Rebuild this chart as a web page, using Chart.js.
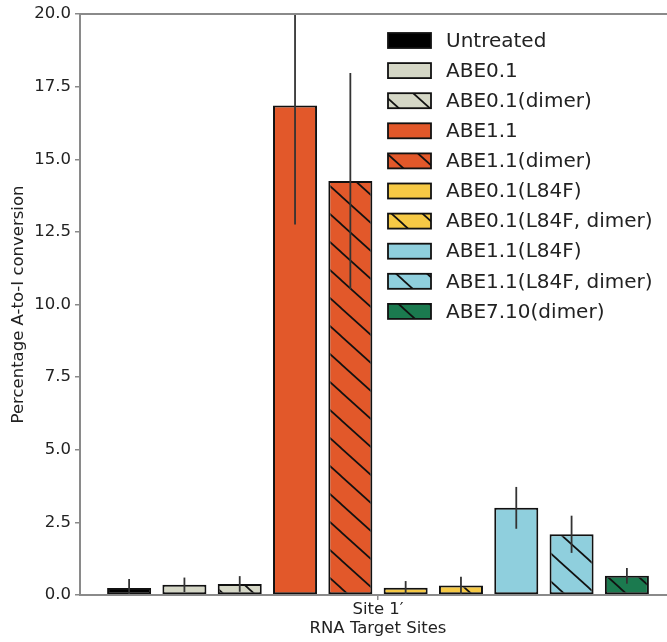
<!DOCTYPE html>
<html>
<head>
<meta charset="utf-8">
<script src="https://cdn.jsdelivr.net/npm/chart.js@4.4.1/dist/chart.umd.min.js"></script>
<style>
    html, body { margin: 0; padding: 0; background: #fff; overflow: hidden; }
    #chart { display: block; }
</style>
</head>
<body>
<canvas id="chart" width="700" height="642"></canvas>
<script>
// ############################## DADOS ###########################################
var sites = ['Site 1\u2032'];
var series = ['Untreated', 'ABE0.1', 'ABE0.1(dimer)', 'ABE1.1', 'ABE1.1(dimer)',
    'ABE0.1(L84F)', 'ABE0.1(L84F, dimer)', 'ABE1.1(L84F)', 'ABE1.1(L84F, dimer)', 'ABE7.10(dimer)'];
var values = [0.24, 0.35, 0.38, 16.85, 14.25, 0.25, 0.33, 3.0, 2.09, 0.66];
var errors = [0.31, 0.25, 0.27, 4.1, 3.72, 0.23, 0.30, 0.72, 0.64, 0.27];
var colors = ['#000000', '#d5d7c6', '#d5d7c6', '#e2582a', '#e2582a',
    '#f6c945', '#f6c945', '#8fcfdd', '#8fcfdd', '#1b7a4f'];
var hatched = [false, false, true, false, true, false, true, false, true, true];
var yTicks = [0, 2.5, 5, 7.5, 10, 12.5, 15, 17.5, 20];

var FONT = 'DejaVu Sans';
var SPINE = '#8a8a8a';

/**
 * Cria um padrão com linhas diagonais "\" sobre a cor de fundo
 *
 * @param {string} color
 */
function makeHatch(color) {
    var w = 31, h = 28;
    var tile = document.createElement('canvas');
    tile.width = w;
    tile.height = h;
    var c = tile.getContext('2d');
    c.fillStyle = color;
    c.fillRect(0, 0, w, h);
    c.strokeStyle = '#111';
    c.lineWidth = 1.7;
    for (var k = -1; k <= 1; k++) {
        c.beginPath();
        c.moveTo(-1, -h / w + k * h);
        c.lineTo(w + 1, (w + 1) * h / w + k * h);
        c.stroke();
    }
    return c.createPattern(tile, 'repeat');
}

var fills = colors.map(function (col, i) {
    return hatched[i] ? makeHatch(col) : col;
});

var datasets = series.map(function (name, i) {
    return {
        label: name,
        data: [values[i]],
        backgroundColor: fills[i],
        borderColor: '#111',
        borderWidth: 2,
        borderSkipped: false
    };
});

// Barras de erro (sem "cap"), desenhadas pela escala Y
var errorBars = {
    id: 'errorBars',
    afterDatasetsDraw: function (chart) {
        var ctx = chart.ctx, y = chart.scales.y, area = chart.chartArea;
        ctx.save();
        ctx.beginPath();
        ctx.rect(area.left, area.top, area.right - area.left, area.bottom - area.top);
        ctx.clip();
        ctx.strokeStyle = '#333';
        ctx.lineWidth = 1.8;
        chart.data.datasets.forEach(function (ds, i) {
            var bar = chart.getDatasetMeta(i).data[0];
            ctx.beginPath();
            ctx.moveTo(bar.x, y.getPixelForValue(values[i] - errors[i]));
            ctx.lineTo(bar.x, y.getPixelForValue(values[i] + errors[i]));
            ctx.stroke();
        });
        ctx.restore();
    }
};

// Moldura (spines) em volta da área do gráfico
var frame = {
    id: 'frame',
    afterDraw: function (chart) {
        var ctx = chart.ctx, a = chart.chartArea;
        ctx.save();
        ctx.strokeStyle = SPINE;
        ctx.lineWidth = 2;
        ctx.strokeRect(a.left, a.top, a.right - a.left, a.bottom - a.top);
        ctx.restore();
    }
};

// Legenda no canto superior direito
var legendBox = {
    id: 'legendBox',
    afterDraw: function (chart) {
        var ctx = chart.ctx;
        var x = 388, y = 33, bw = 43, bh = 15, step = 30.1;
        ctx.save();
        ctx.font = '20px "' + FONT + '"';
        ctx.textBaseline = 'middle';
        chart.data.datasets.forEach(function (ds, i) {
            var top = y + i * step;
            ctx.fillStyle = ds.backgroundColor;
            ctx.fillRect(x, top, bw, bh);
            ctx.strokeStyle = '#111';
            ctx.lineWidth = 1.8;
            ctx.strokeRect(x, top, bw, bh);
            ctx.fillStyle = '#222';
            ctx.fillText(ds.label, x + 58, top + bh / 2 + 1);
        });
        ctx.restore();
    }
};

var chart = new Chart(document.getElementById('chart'), {
    type: 'bar',
    data: {
        labels: sites,
        datasets: datasets
    },
    options: {
        responsive: false,
        animation: false,
        devicePixelRatio: 1,
        categoryPercentage: 0.928,
        barPercentage: 0.796,
        layout: {
            padding: { top: 14, right: 24, left: 0, bottom: 0 }
        },
        plugins: {
            legend: { display: false },
            tooltip: { enabled: false }
        },
        scales: {
            x: {
                afterFit: function (s) { s.height = 47; },
                grid: {
                    offset: false,
                    drawOnChartArea: false,
                    tickLength: 5,
                    color: SPINE,
                    lineWidth: 1.5
                },
                border: { display: true, color: SPINE, width: 2 },
                ticks: {
                    padding: 1,
                    color: '#222',
                    font: { family: FONT, size: 16.5, lineHeight: 1 }
                },
                title: {
                    display: true,
                    text: 'RNA Target Sites',
                    color: '#222',
                    padding: { top: 0, bottom: 3 },
                    font: { family: FONT, size: 16.5, lineHeight: 1.2 }
                }
            },
            y: {
                min: 0,
                max: 20,
                afterFit: function (s) { s.width = 80; },
                afterBuildTicks: function (s) {
                    s.ticks = yTicks.map(function (v) { return { value: v }; });
                },
                grid: {
                    drawOnChartArea: false,
                    tickLength: 5,
                    color: SPINE,
                    lineWidth: 1.5
                },
                border: { display: true, color: SPINE, width: 2 },
                ticks: {
                    padding: 4,
                    color: '#222',
                    font: { family: FONT, size: 16.5 },
                    callback: function (v) { return Number(v).toFixed(1); }
                },
                title: {
                    display: true,
                    text: 'Percentage A-to-I conversion',
                    color: '#222',
                    padding: { top: 9, bottom: 0 },
                    font: { family: FONT, size: 16.5, lineHeight: 1.2 }
                }
            }
        }
    },
    plugins: [errorBars, frame, legendBox]
});
</script>
</body>
</html>
